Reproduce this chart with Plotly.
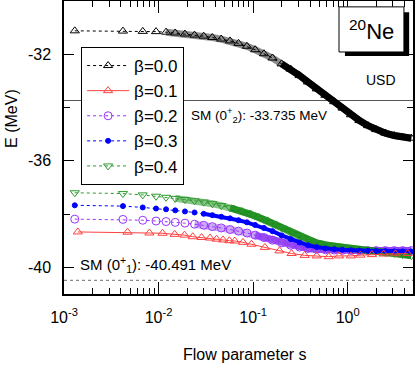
import plotly.graph_objects as go

# flow parameter values shared by the beta = 0.0, 0.2, 0.3, 0.4 runs
s_grid = [0.0013, 0.0042, 0.0068, 0.0094, 0.012, 0.015, 0.019, 0.024, 0.03, 0.037,
          0.046, 0.057, 0.07, 0.086, 0.105, 0.13, 0.16, 0.2, 0.25, 0.31,
          0.38, 0.47, 0.58, 0.72, 0.88, 1.08, 1.33, 1.64, 2.0, 2.5,
          3.1, 3.8, 4.7]

e_beta00 = [-31.12, -31.13, -31.14, -31.15, -31.17, -31.20, -31.24, -31.28, -31.32, -31.37,
            -31.43, -31.50, -31.59, -31.70, -31.83, -31.98, -32.14, -32.36, -32.56, -32.80,
            -33.04, -33.30, -33.54, -33.78, -34.02, -34.27, -34.49, -34.68, -34.83, -34.96,
            -35.05, -35.11, -35.15]
e_beta02 = [-38.19, -38.20, -38.23, -38.26, -38.28, -38.31, -38.34, -38.38, -38.42, -38.47,
            -38.52, -38.58, -38.64, -38.71, -38.79, -38.88, -38.98, -39.08, -39.17, -39.24,
            -39.29, -39.32, -39.34, -39.35, -39.36, -39.36, -39.37, -39.37, -39.37, -39.37,
            -39.37, -39.37, -39.37]
e_beta03 = [-37.67, -37.70, -37.75, -37.79, -37.82, -37.86, -37.90, -37.94, -37.99, -38.04,
            -38.10, -38.16, -38.23, -38.31, -38.41, -38.52, -38.64, -38.80, -38.94, -39.07,
            -39.17, -39.24, -39.29, -39.32, -39.34, -39.36, -39.37, -39.38, -39.39, -39.39,
            -39.40, -39.40, -39.40]
e_beta04 = [-37.20, -37.23, -37.28, -37.33, -37.37, -37.41, -37.45, -37.50, -37.55, -37.61,
            -37.68, -37.76, -37.85, -37.95, -38.07, -38.20, -38.35, -38.52, -38.69, -38.85,
            -38.98, -39.08, -39.16, -39.21, -39.25, -39.28, -39.32, -39.36, -39.40, -39.44,
            -39.48, -39.52, -39.56]

# beta = 0.1 is plotted on a sparser set of points
s_beta01 = [0.0014, 0.0047, 0.008, 0.011, 0.0148, 0.0188, 0.023, 0.0285, 0.035, 0.041,
            0.048, 0.056, 0.064, 0.078, 0.096, 0.133, 0.19, 0.255, 0.35, 0.47,
            0.63, 0.81, 1.08, 1.36, 1.8, 2.4, 3.2, 4.3]
e_beta01 = [-38.67, -38.68, -38.71, -38.72, -38.76, -38.79, -38.85, -38.88, -38.90, -38.94,
            -38.97, -39.00, -39.01, -39.06, -39.13, -39.25, -39.38, -39.48, -39.55, -39.57,
            -39.60, -39.57, -39.57, -39.54, -39.52, -39.50, -39.49, -39.48]

# shell model reference energies (MeV)
sm_02 = -33.735
sm_01 = -40.491

ytick_vals = [-40, -36, -32]
xtick_vals = [0.001, 0.01, 0.1, 1]
xtick_text = ["10<sup>-3</sup>", "10<sup>-2</sup>", "10<sup>-1</sup>", "10<sup>0</sup>"]

FONT = "Arial, Liberation Sans, sans-serif"

fig = go.Figure()


def band(x, y, start, color, width):
    # the original runs are sampled so densely that the markers merge into a band
    xs = [v for v in x if v >= start]
    ys = y[len(x) - len(xs):]
    fig.add_trace(go.Scatter(x=xs, y=ys, mode="lines", hoverinfo="skip", showlegend=False,
                             line=dict(color=color, width=width)))


def run(x, y, name, color, symbol, size, dash, rank):
    fig.add_trace(go.Scatter(x=x, y=y, name=name, mode="lines+markers", legendrank=rank,
                             line=dict(color=color, width=1, dash=dash),
                             marker=dict(symbol=symbol, size=size, color=color,
                                         line=dict(color=color, width=1))))


band(s_grid, e_beta00, 0.012, "rgba(0,0,0,0.45)", 7)
band(s_grid, e_beta00, 0.2, "black", 7)
run(s_grid, e_beta00, "\u03b2=0.0", "black", "triangle-up-open", 8, "dot", 1)

band(s_grid, e_beta02, 0.02, "rgba(140,60,240,0.45)", 7)
band(s_grid, e_beta02, 0.1, "rgba(140,60,240,0.85)", 7)
run(s_grid, e_beta02, "\u03b2=0.2", "#9933ff", "circle-open", 8, "dot", 3)

band(s_grid, e_beta04, 0.015, "rgba(20,135,20,0.5)", 7)
band(s_grid, e_beta04, 0.05, "rgba(20,135,20,0.9)", 7)
run(s_grid, e_beta04, "\u03b2=0.4", "#2a9a2a", "triangle-down-open", 8, "dot", 5)

band(s_grid, e_beta03, 0.03, "blue", 4)
run(s_grid, e_beta03, "\u03b2=0.3", "blue", "circle", 5, "dot", 4)

run(s_beta01, e_beta01, "\u03b2=0.1", "#ff4040", "triangle-up-open", 8, "solid", 2)

fig.add_hline(y=sm_02, line=dict(color="#555555", width=1), layer="below")
fig.add_hline(y=sm_01, line=dict(color="#888888", width=1.2, dash="dot"), layer="below")

fig.update_xaxes(type="log", range=[-3, 0.69], tickmode="array", tickvals=xtick_vals,
                 ticktext=xtick_text, ticks="inside", ticklen=12, tickcolor="black",
                 minor=dict(ticks="inside", ticklen=6, dtick="D1", tickcolor="black"),
                 showline=True, linecolor="black", linewidth=1.5, mirror="allticks",
                 showgrid=False, zeroline=False, ticklabelstandoff=8, automargin=False,
                 tickfont=dict(size=16))
fig.update_yaxes(range=[-41, -30], tickmode="array", tickvals=ytick_vals,
                 ticktext=[str(v) for v in ytick_vals], ticks="inside", ticklen=10,
                 tickcolor="black",
                 minor=dict(ticks="inside", ticklen=6, dtick=2, tickcolor="black"),
                 showline=True, linecolor="black", linewidth=1.5, mirror="allticks",
                 showgrid=False, zeroline=False, ticklabelstandoff=8, automargin=False,
                 tickfont=dict(size=16))

# nucleus label box with a drop shadow
fig.add_shape(type="rect", xref="paper", yref="paper", x0=0.805, x1=0.989, y0=0.812, y1=0.962,
              fillcolor="black", line=dict(width=0))
fig.add_shape(type="rect", xref="paper", yref="paper", x0=0.788, x1=0.974, y0=0.826, y1=0.980,
              fillcolor="white", line=dict(color="black", width=1))


def label(text, x, y, size, xanchor="center", angle=0):
    fig.add_annotation(text=text, xref="paper", yref="paper", x=x, y=y, xanchor=xanchor,
                       yanchor="middle", textangle=angle, showarrow=False,
                       font=dict(size=size))


label("<sup>20</sup>Ne", 0.8825, 0.901, 22)
label("USD", 0.908, 0.730, 14)
label("SM (0<sup>+</sup><sub>2</sub>): %.3f MeV" % sm_02, 0.358, 0.611, 13.5, xanchor="left")
label("SM (0<sup>+</sup><sub>1</sub>): %.3f MeV" % sm_01, 0.040, 0.099, 15, xanchor="left")
label("E (MeV)", -0.149, 0.601, 16, angle=-90)
label("Flow parameter s", 0.519, -0.208, 16)

fig.update_layout(
    width=415, height=370,
    margin=dict(l=64, r=2, t=1, b=76, autoexpand=False),
    paper_bgcolor="white", plot_bgcolor="white",
    font=dict(family=FONT, size=16, color="black"),
    legend=dict(x=0.049, y=0.843, xanchor="left", yanchor="top", bgcolor="white",
                bordercolor="black", borderwidth=1, font=dict(size=17), itemwidth=42),
)

# drop the browser's default page margin so the figure fills the window
fig.write_html("out.html", config={"displayModeBar": False},
               post_script="document.body.style.margin='0';")
